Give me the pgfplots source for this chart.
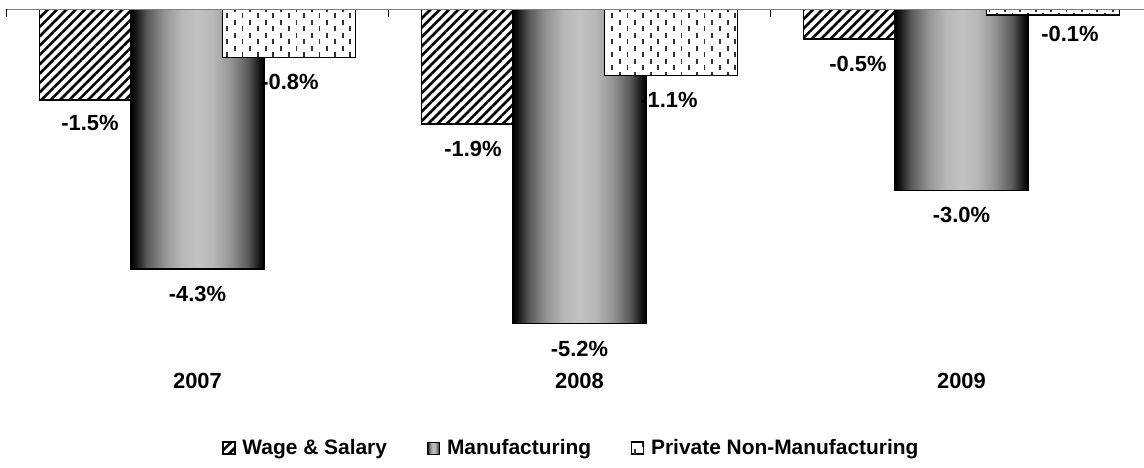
\documentclass[border=0pt]{standalone}
\usepackage{fontspec}
\setmainfont{Liberation Sans}
\usepackage{pgfplots}
\pgfplotsset{compat=1.18}
\usepackage{pgfplotstable}
\usetikzlibrary{patterns,patterns.meta}

\newcommand{\chartfont}{\bfseries\fontsize{22}{26}\selectfont}
\newcommand{\legendfont}{\bfseries\fontsize{21}{25}\selectfont}

% staggered short vertical dashes
\tikzdeclarepattern{
  name=staggered dashes,
  type=uncolored,
  bottom left={(-1bp,-1bp)},
  top right={(16.4bp,14bp)},
  tile size={(15.4bp,13bp)},
  code={
    \tikzset{x=1bp,y=1bp}
    \draw[line width=1.8bp] (3.85,1) -- (3.85,6);
    \draw[line width=1.8bp] (11.55,7.5) -- (11.55,12.5);
  }
}

% dark edges, light centre (the filled path spans 25bp..75bp of the shading)
\pgfdeclarehorizontalshading{cylinder}{100bp}{
  color(0bp)=(black);
  color(25bp)=(black);
  color(27bp)=(black!90);
  color(31bp)=(black!65);
  color(37.5bp)=(black!42);
  color(44bp)=(black!28);
  color(50bp)=(black!24);
  color(56bp)=(black!28);
  color(62.5bp)=(black!42);
  color(69bp)=(black!65);
  color(73bp)=(black!90);
  color(75bp)=(black);
  color(100bp)=(black)}

\pgfplotstableread{
x y dx dy
0 -1.5 -16 2
1 -1.9 -15 0
2 -0.5 -12 0
}\wagetab
\pgfplotstableread{
x y dx dy
0 -0.8 1 0
1 -1.1 -2 0
2 -0.1 17 6
}\privtab

\pgfplotsset{
  mfg bar/.style={ybar, bar shift=0bp, draw=black, line width=1.6bp,
    shading=cylinder,
    visualization depends on={0\as\dx},
    visualization depends on={0\as\dy}},
}

\begin{document}
\begin{tikzpicture}
\begin{axis}[
  scale only axis,
  width=1146bp, height=363bp,
  xmin=-0.5, xmax=2.5,
  ymin=-6, ymax=0,
  axis line style={draw=none},
  ytick=\empty,
  xtick={0,1,2},
  xticklabels={2007,2008,2009},
  xtick pos=right,
  xticklabel pos=left,
  xtick align=inside,
  major tick length=0pt,
  extra x ticks={-0.5,0.5,1.5,2.5},
  extra x tick labels={},
  extra x tick style={major tick length=8bp, tick style={black, line width=1bp}},
  tick label style={font=\chartfont, yshift=2bp},
  bar width=133bp,
  nodes near coords={\pgfmathprintnumber[fixed,fixed zerofill,precision=1,assume math mode=true]{\pgfplotspointmeta}\%},
  every node near coord/.append style={font=\chartfont, anchor=north, yshift=-13bp,
    xshift=\dx bp, yshift=\dy bp, text=black},
  legend style={at={(0.493,-0.2094)}, anchor=center, draw=none, fill=none,
    legend columns=3, font=\legendfont,
    /tikz/every odd column/.append style={column sep=5bp},
    /tikz/every even column/.append style={column sep=38bp}},
  legend image code/.code={\draw[#1, line width=1bp] (0bp,-6bp) rectangle (12bp,6bp);},
]
\addplot[ybar, bar shift=-91.5bp, draw=black, line width=1.6bp,
  preaction={fill=white},
  pattern={Lines[angle=45,distance=6.6bp,line width=2.6bp]},
  visualization depends on={\thisrow{dx}\as\dx},
  visualization depends on={\thisrow{dy}\as\dy},
  every node near coord/.append style={xshift=-91.5bp}]
  table[x=x,y=y] {\wagetab};
\addlegendentry{Wage \& Salary}

% one plot per bar so that each bar carries its own gradient
\addplot[mfg bar] coordinates {(0,-4.3)};
\addlegendentry{Manufacturing}
\addplot[mfg bar, forget plot] coordinates {(1,-5.2)};
\addplot[mfg bar, forget plot] coordinates {(2,-3.0)};

\addplot[ybar, bar shift=91.5bp, draw=black, line width=1.6bp,
  preaction={fill=white},
  pattern=staggered dashes, pattern color=black!80,
  visualization depends on={\thisrow{dx}\as\dx},
  visualization depends on={\thisrow{dy}\as\dy},
  every node near coord/.append style={xshift=91.5bp}]
  table[x=x,y=y] {\privtab};
\addlegendentry{Private Non-Manufacturing}

\draw[gray, line width=1bp] (rel axis cs:0,1) -- (rel axis cs:1,1);
\end{axis}
\pgfresetboundingbox
\path (-6.5bp,-96bp) rectangle (1137.5bp,372bp);
\end{tikzpicture}
\end{document}
